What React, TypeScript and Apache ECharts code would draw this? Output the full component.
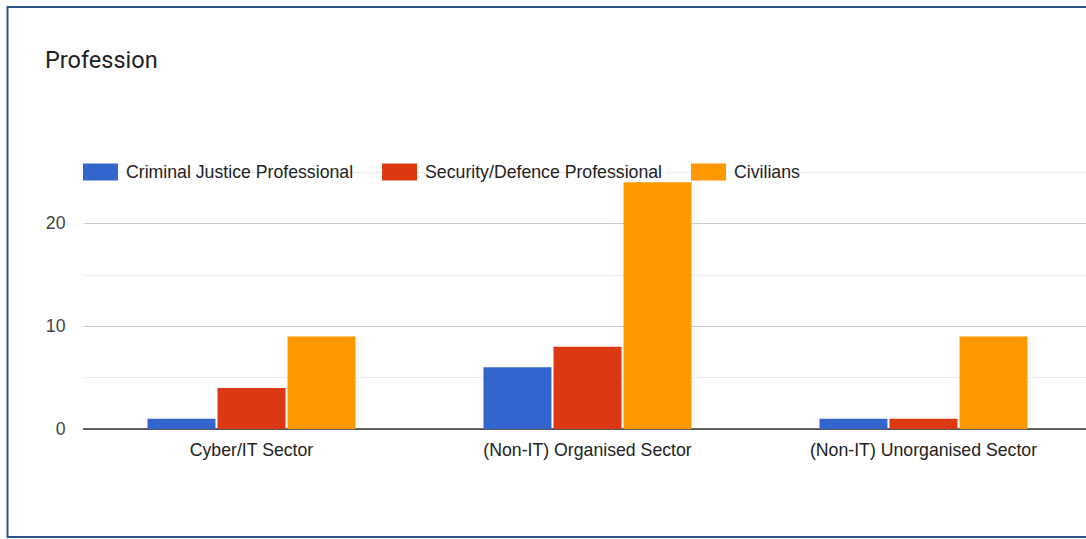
import React, { useEffect, useRef } from "react";
import * as echarts from "echarts";

const categories = ["Cyber/IT Sector", "(Non-IT) Organised Sector", "(Non-IT) Unorganised Sector"];
const seriesNames = ["Criminal Justice Professional", "Security/Defence Professional", "Civilians"];
const criminalJustice = [1, 6, 1];
const securityDefence = [4, 8, 1];
const civilians = [9, 24, 9];
const colors = ["#3366cc", "#dc3912", "#ff9900"];

export default function App() {
  const ref = useRef<HTMLDivElement>(null);
  useEffect(() => {
    const chart = echarts.init(ref.current!, null, { renderer: "svg" });
    const font = "Arial, 'Liberation Sans', sans-serif";
    const data = [criminalJustice, securityDefence, civilians];
    chart.setOption({
      animation: false,
      textStyle: { fontFamily: font },
      title: {
        text: "Profession",
        left: 40,
        top: 43,
        textStyle: { fontFamily: "Roboto, Arial, sans-serif", fontSize: 23.5, fontWeight: "normal", color: "#212121" },
      },
      graphic: [
        {
          type: "rect",
          shape: { x: 7.5, y: 7, width: 1150, height: 530 },
          style: { fill: "none", stroke: "#2c568a", lineWidth: 2 },
          z: 100,
        },
      ],
      legend: {
        left: 78,
        top: 158,
        itemWidth: 35,
        itemHeight: 17,
        itemGap: 29,
        icon: "rect",
        textStyle: { fontSize: 17.7, color: "#222", fontFamily: font, padding: [0, 0, 0, 3] },
        data: seriesNames,
      },
      grid: { left: 83.5, top: 172, width: 1008, height: 257 },
      xAxis: {
        type: "category",
        data: categories,
        axisTick: { show: false },
        axisLine: { lineStyle: { color: "#333", width: 1.5 } },
        axisLabel: { fontSize: 17.7, color: "#222", margin: 12, fontFamily: font },
      },
      yAxis: {
        type: "value",
        min: 0,
        max: 25,
        interval: 5,
        axisLine: { show: false },
        axisTick: { show: false },
        axisLabel: {
          fontSize: 17.7,
          color: "#444",
          margin: 18,
          fontFamily: font,
          formatter: (v: number) => (v % 10 === 0 ? String(v) : ""),
        },
        splitLine: { lineStyle: { color: ["#cccccc", "#ebebeb"], width: 1 } },
      },
      series: seriesNames.map((name, i) => ({
        name,
        type: "bar",
        data: data[i],
        barWidth: 68,
        barGap: "3%",
        itemStyle: { color: colors[i] },
      })),
    });
    return () => chart.dispose();
  }, []);
  return (
    <div style={{ position: "fixed", left: 0, top: 0, width: 1086, height: 539, overflow: "hidden", background: "#fff" }}>
      <div ref={ref} style={{ position: "absolute", left: 0, top: 0, width: 1120, height: 539 }} />
    </div>
  );
}
